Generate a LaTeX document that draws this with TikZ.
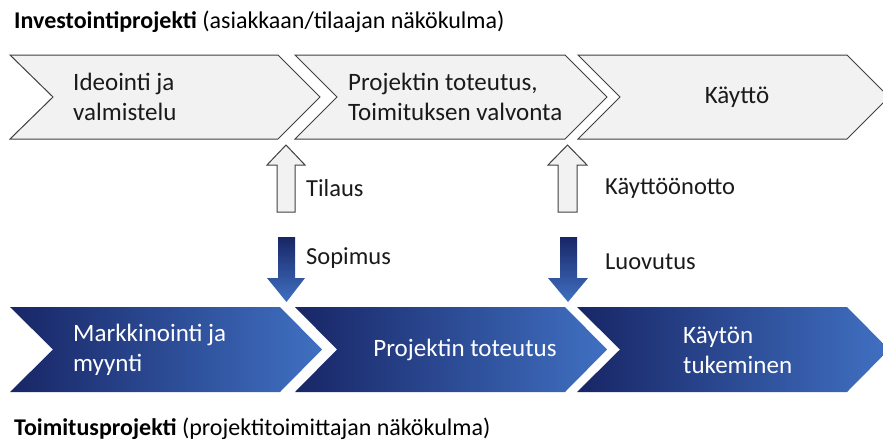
\documentclass[tikz,border=0pt]{standalone}
\usepackage{fontspec}
\setmainfont{Carlito}
\begin{document}
\begin{tikzpicture}[x=1pt,y=-1pt,
  lite/.style={fill=litefill,draw=liteline,line width=1pt,line join=miter},
  dark/.style={left color=navyL,right color=navyR,draw=none},
  darkdown/.style={top color=navyL,bottom color=navyR,draw=none},
  ltxt/.style={font=\fontsize{25}{30}\selectfont,text=txt,align=left,inner sep=0pt},
  wtxt/.style={font=\fontsize{25}{30}\selectfont,text=white,align=left,inner sep=0pt},
  lbl/.style={font=\fontsize{24.5}{28}\selectfont,text=txt,anchor=west,inner sep=0pt},
  ttl/.style={font=\fontsize{24}{28}\selectfont,text=black,anchor=west,inner sep=0pt}]
\definecolor{litefill}{RGB}{242,242,242}
\definecolor{liteline}{RGB}{64,64,64}
\definecolor{navyL}{RGB}{24,38,102}
\definecolor{navyR}{RGB}{64,112,194}
\definecolor{txt}{RGB}{26,26,26}
\useasboundingbox (0,0) rectangle (883,440);
\clip (0,0) rectangle (883,440);
% top chevrons
\draw[lite] (10,55) -- (278,55) -- (320,97) -- (278,139) -- (10,139) -- (53,97) -- cycle;
\draw[lite] (295,55) -- (565,55) -- (607,97) -- (565,139) -- (295,139) -- (337,97) -- cycle;
\draw[lite] (578,55) -- (847,55) -- (889,97) -- (847,139) -- (578,139) -- (620,97) -- cycle;
% bottom chevrons
\shade[dark] (10,307) -- (280,307) -- (322,349.5) -- (280,392) -- (10,392) -- (53,349.5) -- cycle;
\shade[dark] (295,307) -- (565,307) -- (607,349.5) -- (565,392) -- (295,392) -- (337,349.5) -- cycle;
\shade[dark] (577,307) -- (847,307) -- (889,349.5) -- (847,392) -- (577,392) -- (620,349.5) -- cycle;
% block arrows
\draw[lite] (286,145) -- (305,165) -- (295,165) -- (295,212) -- (277,212) -- (277,165) -- (267,165) -- cycle;
\draw[lite] (567.5,145) -- (587,165) -- (577,165) -- (577,212) -- (558,212) -- (558,165) -- (548,165) -- cycle;
\shade[darkdown] (278,237) -- (295,237) -- (295,278) -- (305,278) -- (286.5,302) -- (267,278) -- (278,278) -- cycle;
\shade[darkdown] (560,237) -- (577,237) -- (577,278) -- (588,278) -- (568,302) -- (548,278) -- (560,278) -- cycle;
% texts
\node[ttl] (t1) at (14,22) {\textbf{Investointiprojekti} (asiakkaan/tilaajan näkökulma)};
\node[ttl] (t2) at (14,429) {\textbf{Toimitusprojekti} (projektitoimittajan näkökulma)};
\node[ltxt,anchor=west] (a1) at (73,97) {Ideointi ja\\valmistelu};
\node[ltxt,anchor=west] (a2) at (348,97) {Projektin toteutus,\\Toimituksen valvonta};
\node[ltxt] (a3) at (737,97) {Käyttö};
\node[wtxt,anchor=west] (b1) at (73,350) {Markkinointi ja\\myynti};
\node[wtxt] (b2) at (465,350) {Projektin toteutus};
\node[wtxt,anchor=west] (b3) at (683,350) {Käytön\\tukeminen};
\node[lbl] (l1) at (306,188) {Tilaus};
\node[lbl] (l2) at (306,258) {Sopimus};
\node[lbl] (l3) at (605,188) {Käyttöönotto};
\node[lbl] (l4) at (605,262) {Luovutus};
\end{tikzpicture}
\end{document}
